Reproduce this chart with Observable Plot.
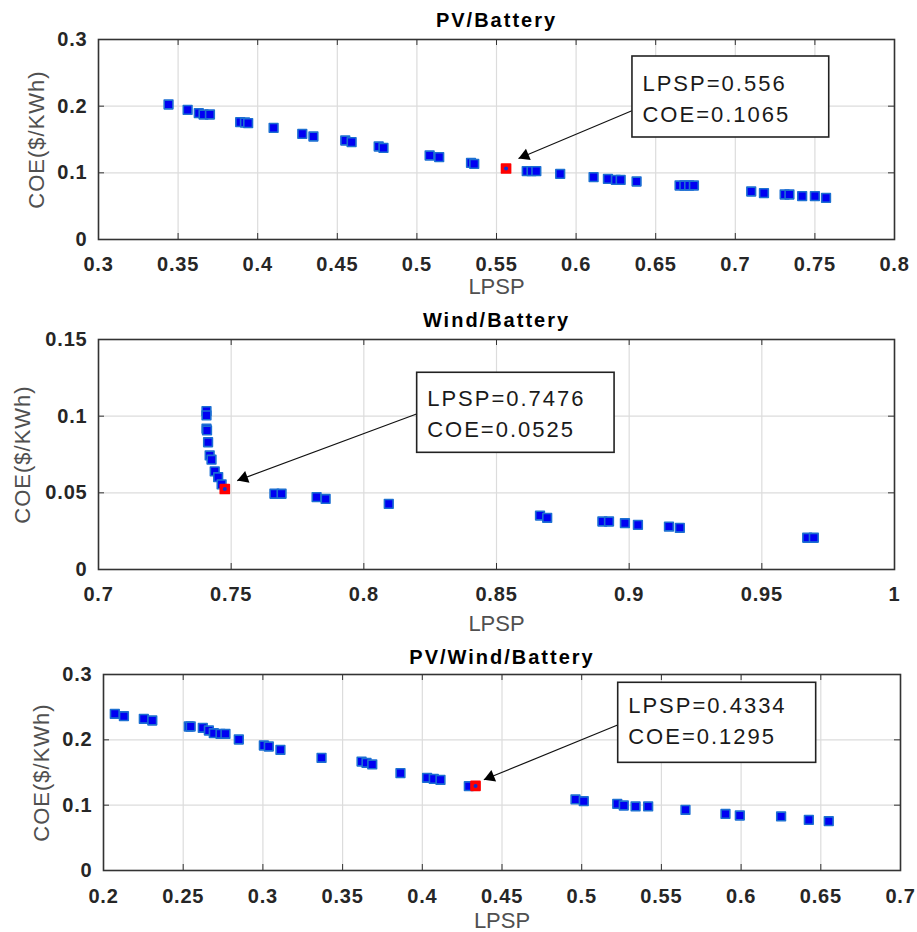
<!DOCTYPE html>
<html><head><meta charset="utf-8">
<script src="https://cdn.jsdelivr.net/npm/d3@7"></script>
<script src="https://cdn.jsdelivr.net/npm/@observablehq/plot@0.6"></script>
<style>
body{margin:0;background:#fff;}
#chart{width:917px;}
#chart svg{display:block;}
[aria-label="note"]{letter-spacing:2px;}
[aria-label="title"]{letter-spacing:2px;}
[aria-label="ylabel"]{letter-spacing:1px;}
[aria-label="x-axis tick label"], [aria-label="y-axis tick label"]{letter-spacing:0.8px;}
</style></head><body><div id="chart"></div>
<script>
// ---------- data ----------
const titles = ["PV/Battery", "Wind/Battery", "PV/Wind/Battery"];
const xLabel = "LPSP";
const yLabel = "COE($/KWh)";

// PV/Battery
const pvBattLPSP = [0.344,0.356,0.363,0.366,0.370,0.389,0.392,0.394,0.410,0.428,0.435,0.455,0.459,0.476,0.479,0.508,0.514,0.534,0.536,0.569,0.572,0.575,0.590,0.611,0.620,0.625,0.628,0.638,0.665,0.668,0.671,0.674,0.710,0.718,0.731,0.734,0.742,0.750,0.757];
const pvBattCOE  = [0.2025,0.1945,0.1895,0.1875,0.1875,0.176,0.1755,0.1745,0.1675,0.1585,0.1545,0.1485,0.146,0.1395,0.1375,0.126,0.1235,0.115,0.1135,0.1025,0.1025,0.1025,0.0985,0.0935,0.091,0.0895,0.0895,0.087,0.081,0.081,0.081,0.081,0.072,0.0695,0.0675,0.0675,0.065,0.065,0.0625];
const pvBattBest = {lpsp: 0.556, coe: 0.1065};

// Wind/Battery
const windBattLPSP = [0.7407,0.7407,0.7407,0.7409,0.7413,0.7419,0.7426,0.7438,0.7451,0.7464,0.7663,0.7690,0.7822,0.7856,0.8094,0.8664,0.8691,0.8899,0.8924,0.8984,0.9033,0.9150,0.9191,0.9671,0.9696];
const windBattCOE  = [0.1033,0.1005,0.0918,0.0907,0.083,0.0744,0.0716,0.064,0.0602,0.0555,0.0494,0.0494,0.0472,0.046,0.0428,0.0352,0.0337,0.0313,0.0313,0.0302,0.0291,0.028,0.0272,0.0207,0.0207];
const windBattBest = {lpsp: 0.7476, coe: 0.0525};

// PV/Wind/Battery
const pvWindBattLPSP = [0.2071,0.2128,0.2253,0.2306,0.2535,0.2547,0.2623,0.2661,0.2692,0.2734,0.2765,0.2849,0.3006,0.3037,0.3110,0.3368,0.3619,0.3650,0.3686,0.3863,0.4030,0.4072,0.4114,0.4292,0.4961,0.5013,0.5223,0.5264,0.5338,0.5417,0.5651,0.5902,0.5992,0.6251,0.6425,0.6550];
const pvWindBattCOE  = [0.2398,0.2362,0.2322,0.2296,0.2204,0.2204,0.2184,0.2143,0.2102,0.2092,0.2092,0.2005,0.1913,0.1898,0.1847,0.1725,0.1668,0.1648,0.1623,0.1490,0.1419,0.1403,0.1388,0.1290,0.1087,0.1061,0.1020,0.0995,0.0980,0.0980,0.0929,0.0866,0.0842,0.0827,0.0775,0.0755];
const pvWindBattBest = {lpsp: 0.4334, coe: 0.1295};

// tick values
const xTicks1 = [0.3,0.35,0.4,0.45,0.5,0.55,0.6,0.65,0.7,0.75,0.8];
const yTicks1 = [0,0.1,0.2,0.3];
const xTicks2 = [0.7,0.75,0.8,0.85,0.9,0.95,1];
const yTicks2 = [0,0.05,0.1,0.15];
const xTicks3 = [0.2,0.25,0.3,0.35,0.4,0.45,0.5,0.55,0.6,0.65,0.7];
const yTicks3 = [0,0.1,0.2,0.3];

// annotation boxes & arrows (data units)
const note1 = {x1: 0.6354, x2: 0.759, y1: 0.153, y2: 0.2745, ax: 0.6354, ay: 0.1935, bx: 0.5638, by: 0.1215};
const note2 = {x1: 0.8201, x2: 0.8945, y1: 0.0761, y2: 0.1283, ax: 0.8201, ay: 0.1016, bx: 0.7523, by: 0.058};
const note3 = {x1: 0.5229, x2: 0.6471, y1: 0.1648, y2: 0.2873, ax: 0.5229, ay: 0.223, bx: 0.4386, by: 0.1388};

// ---------- drawing ----------
const FONT = "'Liberation Sans', Arial, Helvetica, sans-serif";

function panel(cfg) {
  const {title, lpsp, coe, best, note, xTicks, yTicks, height, mt, mb, ml, mr,
         titleOff, tickPad, xLabOff, yLabX, noteDy} = cfg;
  const width = 917;
  const innerW = width - ml - mr, innerH = height - mt - mb;
  const pts = lpsp.map((x, i) => ({x, y: coe[i]}));
  const xDom = [xTicks[0], xTicks[xTicks.length - 1]];
  const yDom = [yTicks[0], yTicks[yTicks.length - 1]];
  const fmt = d => String(+d.toFixed(4));

  // arrow-head orientation from the scales' linear geometry
  const sx = v => (v - xDom[0]) / (xDom[1] - xDom[0]) * innerW;
  const sy = v => (1 - (v - yDom[0]) / (yDom[1] - yDom[0])) * innerH;
  const ux0 = sx(note.bx) - sx(note.ax), uy0 = sy(note.by) - sy(note.ay);
  const len = Math.hypot(ux0, uy0);
  const ux = ux0 / len, uy = uy0 / len;
  const headR = 4.6;
  const tipDist = Math.sqrt(Math.PI * headR * headR * 4 / Math.sqrt(3)) / Math.sqrt(3);
  const headRot = Math.atan2(ux, -uy) * 180 / Math.PI;

  return Plot.plot({
    width, height,
    marginTop: mt, marginBottom: mb, marginLeft: ml, marginRight: mr,
    x: {domain: xDom},
    y: {domain: yDom},
    style: {fontFamily: FONT, fontSize: "20px", fontWeight: "bold", color: "#262626", background: "#fff"},
    marks: [
      Plot.gridX(xTicks, {stroke: "#dcdcdc", strokeOpacity: 1, strokeWidth: 1.2}),
      Plot.gridY(yTicks, {stroke: "#dcdcdc", strokeOpacity: 1, strokeWidth: 1.2}),
      Plot.tickX(xTicks, {x: d => d, insetTop: innerH - 6, stroke: "#333"}),
      Plot.tickX(xTicks, {x: d => d, insetBottom: innerH - 6, stroke: "#333"}),
      Plot.tickY(yTicks, {y: d => d, insetRight: innerW - 6, stroke: "#333"}),
      Plot.tickY(yTicks, {y: d => d, insetLeft: innerW - 6, stroke: "#333"}),
      Plot.frame({stroke: "#333", strokeWidth: 1.6}),
      Plot.axisX({ticks: xTicks, tickSize: 0, tickPadding: tickPad, tickFormat: fmt, label: null}),
      Plot.axisY({ticks: yTicks, tickSize: 0, tickPadding: 11, tickFormat: fmt, label: null}),
      Plot.dot(pts, {x: "x", y: "y", symbol: "square", r: 4.9, fill: "#0000f2", stroke: "#1c6fd2", strokeWidth: 1.6, strokeLinejoin: "round"}),
      Plot.dot([best], {x: "lpsp", y: "coe", symbol: "square", r: 5, fill: "#ff0000", stroke: "#ff0000", strokeWidth: 1.8, strokeLinejoin: "round"}),
      Plot.dot([best], {x: "lpsp", y: "coe", r: 2, fill: "#1030d0"}),
      Plot.link([note], {x1: "ax", y1: "ay", x2: "bx", y2: "by", stroke: "#111", strokeWidth: 1.2}),
      Plot.dot([note], {x: "bx", y: "by", symbol: "triangle", r: headR, rotate: headRot,
        dx: -ux * tipDist, dy: -uy * tipDist, fill: "#000", stroke: "none"}),
      Plot.rect([note], {x1: "x1", x2: "x2", y1: "y1", y2: "y2", fill: "#fff", stroke: "#222", strokeWidth: 1.6}),
      Plot.text([note], {x: "x1", y: d => (d.y1 + d.y2) / 2, dx: 10, dy: noteDy,
        text: () => `LPSP=${best.lpsp}\nCOE=${best.coe}`, textAnchor: "start", lineAnchor: "middle", lineHeight: 1.4,
        fontSize: 22, fontWeight: "normal", fill: "#1a1a1a", ariaLabel: () => "note"}),
      Plot.text([title], {text: d => d, frameAnchor: "top", lineAnchor: "middle", dy: -titleOff, fontSize: 20, fontWeight: "bold", fill: "#000", ariaLabel: () => "title"}),
      Plot.text([xLabel], {text: d => d, frameAnchor: "bottom", lineAnchor: "middle", dy: xLabOff, fontSize: 22, fontWeight: "normal", fill: "#505050", ariaLabel: () => "xlabel"}),
      Plot.text([yLabel], {text: d => d, frameAnchor: "left", textAnchor: "middle", lineAnchor: "middle", rotate: -90, dx: -(ml - yLabX), fontSize: 22, fontWeight: "normal", fill: "#505050", ariaLabel: () => "ylabel"})
    ]
  });
}

const chart = document.getElementById("chart");
chart.append(panel({title: titles[0], lpsp: pvBattLPSP, coe: pvBattCOE, best: pvBattBest, note: note1,
  xTicks: xTicks1, yTicks: yTicks1, height: 300, mt: 39, mb: 61, ml: 98, mr: 23,
  titleOff: 19, tickPad: 17, xLabOff: 47, yLabX: 36, noteDy: 0}));
chart.append(panel({title: titles[1], lpsp: windBattLPSP, coe: windBattCOE, best: windBattBest, note: note2,
  xTicks: xTicks2, yTicks: yTicks2, height: 340, mt: 39, mb: 71, ml: 98, mr: 23,
  titleOff: 19, tickPad: 17, xLabOff: 54, yLabX: 22, noteDy: -1}));
chart.append(panel({title: titles[2], lpsp: pvWindBattLPSP, coe: pvWindBattCOE, best: pvWindBattBest, note: note3,
  xTicks: xTicks3, yTicks: yTicks3, height: 292, mt: 34, mb: 62, ml: 103, mr: 17,
  titleOff: 17, tickPad: 18, xLabOff: 50, yLabX: 41, noteDy: -4}));
</script>
</body></html>
